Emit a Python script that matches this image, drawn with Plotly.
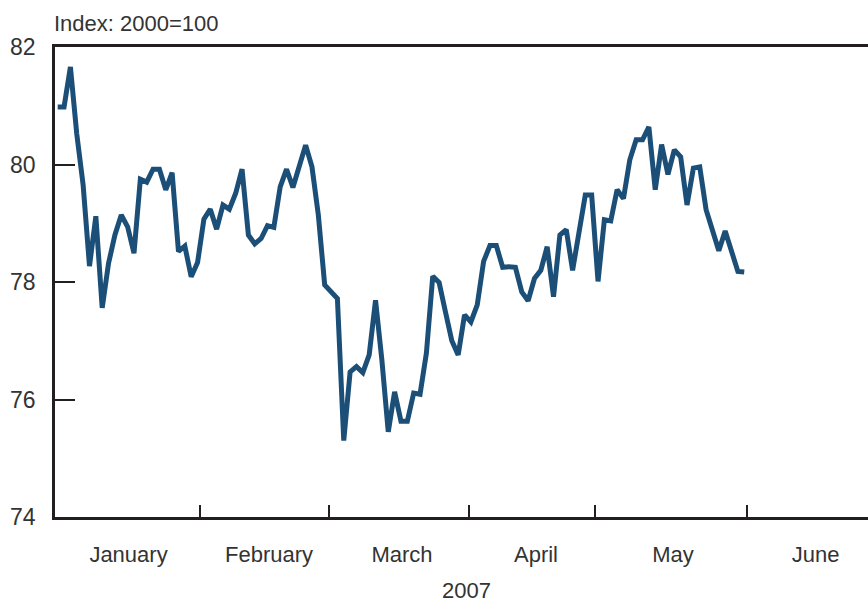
import plotly.graph_objects as go

# Daily index values (Index: 2000=100), January–May 2007, one per observation
values = [
    80.98, 80.98, 81.66, 80.52, 79.65, 78.27, 79.12, 77.56, 78.32, 78.80,
    79.14, 78.94, 78.49, 79.75, 79.70, 79.92, 79.92, 79.57, 79.86, 78.52,
    78.61, 78.09, 78.33,
    79.07, 79.24, 78.90, 79.31, 79.24, 79.51, 79.92, 78.80, 78.65, 78.74,
    78.96, 78.93, 79.62, 79.92, 79.61, 79.97, 80.33, 79.96, 79.14, 77.95,
    77.82, 77.72, 75.30, 76.47, 76.56, 76.46, 76.76, 77.69, 76.67, 75.45,
    76.13, 75.63, 75.63, 76.11, 76.09, 76.79, 78.10, 77.99, 77.49, 77.00,
    76.76, 77.44,
    77.32, 77.61, 78.35, 78.62, 78.62, 78.25, 78.26, 78.25, 77.83, 77.68,
    78.06, 78.20, 78.60, 77.75, 78.80, 78.89, 78.20, 78.83, 79.48, 79.48,
    78.01, 79.06, 79.04, 79.57, 79.42, 80.08, 80.42, 80.42, 80.64, 79.57,
    80.34, 79.83, 80.25, 80.13, 79.31, 79.94, 79.96, 79.23, 78.91, 78.53,
    78.87, 78.52, 78.18, 78.17,
]
obs = list(range(len(values)))

# Month boundaries and month label centres, in observation units
month_bounds = [22.4, 42.7, 64.7, 84.5, 108.4]
month_names = ["January", "February", "March", "April", "May", "June"]
month_centres = [11.14, 33.24, 54.16, 75.24, 96.79, 119.22]
x_range = [-0.425, 127.47]

y_ticks = [74, 76, 78, 80, 82]

font_family = "Liberation Sans, Arial, sans-serif"
text_color = "#333333"
axis_color = "#231f20"

fig = go.Figure()
fig.add_trace(go.Scatter(
    x=obs, y=values, mode="lines",
    line=dict(color="#1b4f78", width=5),
    showlegend=False, hoverinfo="y",
))
fig.add_trace(go.Scatter(x=[], y=[], xaxis="x2", showlegend=False))

fig.update_layout(
    width=868, height=604,
    margin=dict(l=55, r=0, t=47, b=87),
    paper_bgcolor="white", plot_bgcolor="white",
    font=dict(family=font_family, size=23, color=text_color),
    xaxis=dict(
        range=x_range, showgrid=False, zeroline=False, automargin=False,
        showline=True, linecolor=axis_color, linewidth=2.5, mirror=True,
        tickmode="array", tickvals=month_bounds, showticklabels=False,
        ticks="inside", ticklen=12, tickwidth=2, tickcolor=axis_color,
    ),
    xaxis2=dict(
        range=x_range, overlaying="x", anchor="y", side="bottom",
        showgrid=False, zeroline=False, showline=False, automargin=False,
        tickmode="array", tickvals=month_centres, ticktext=month_names,
        ticks="", ticklabelstandoff=22,
        tickfont=dict(family=font_family, size=22, color=text_color),
    ),
    yaxis=dict(
        range=[74, 82], showgrid=False, zeroline=False, automargin=False,
        showline=True, linecolor=axis_color, linewidth=2.5,
        tickmode="array", tickvals=y_ticks,
        ticks="inside", ticklen=20, tickwidth=2, tickcolor=axis_color,
        ticklabelstandoff=12,
        tickfont=dict(family=font_family, size=23, color=text_color),
    ),
    annotations=[
        dict(text="Index: 2000=100", xref="paper", yref="paper",
             x=-0.004, y=1 + 23 / 470, xanchor="left", yanchor="middle",
             showarrow=False, font=dict(size=22, color=text_color)),
        dict(text="2007", xref="paper", yref="paper",
             x=(466 - 55) / 813, y=-(590 - 517) / 470,
             xanchor="center", yanchor="middle",
             showarrow=False, font=dict(size=22, color=text_color)),
    ],
)

fig.write_html(
    "out.html",
    config={"displayModeBar": False},
    post_script="document.body.style.margin='0';document.body.style.overflow='hidden';",
)
